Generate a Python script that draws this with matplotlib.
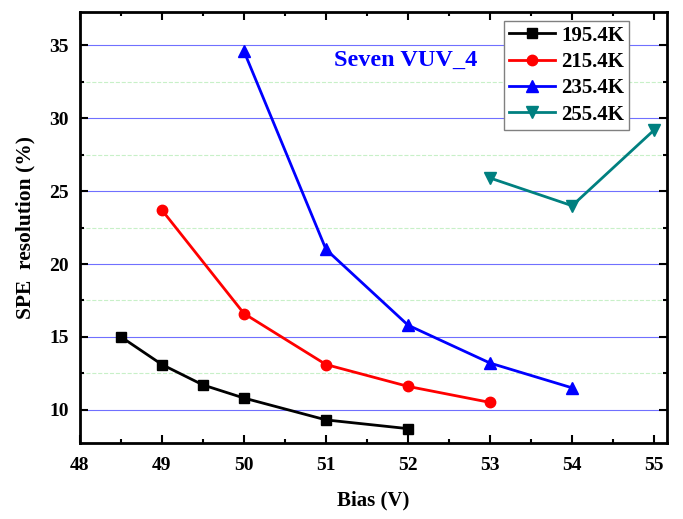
import matplotlib.pyplot as plt
from matplotlib.ticker import MultipleLocator

plt.rcParams['font.family'] = 'Liberation Serif'
plt.rcParams['font.weight'] = 'bold'

# SPE resolution vs bias voltage for each temperature
bias_195 = [48.5, 49, 49.5, 50, 51, 52]
res_195 = [15.0, 13.1, 11.7, 10.8, 9.3, 8.7]
bias_215 = [49, 50, 51, 52, 53]
res_215 = [23.7, 16.6, 13.1, 11.6, 10.5]
bias_235 = [50, 51, 52, 53, 54]
res_235 = [34.6, 21.0, 15.8, 13.2, 11.5]
bias_255 = [53, 54, 55]
res_255 = [25.9, 24.0, 29.2]

fig = plt.figure(figsize=(6.83, 5.19), dpi=100)
ax = fig.add_axes([0.117, 0.146, 0.860, 0.831])

ax.plot(bias_195, res_195, color='black', marker='s', ms=7, lw=2, label='195.4K')
ax.plot(bias_215, res_215, color='red', marker='o', ms=7.5, lw=2, label='215.4K')
ax.plot(bias_235, res_235, color='blue', marker='^', ms=8, lw=2, label='235.4K')
ax.plot(bias_255, res_255, color='#008080', marker='v', ms=8, lw=2, label='255.4K')

ax.set_xlim(48, 55.16)
ax.set_ylim(7.7, 37.3)
ax.xaxis.set_major_locator(MultipleLocator(1))
ax.xaxis.set_minor_locator(MultipleLocator(0.5))
ax.yaxis.set_major_locator(MultipleLocator(5))
ax.yaxis.set_minor_locator(MultipleLocator(2.5))
ax.tick_params(which='both', direction='in', top=True, right=True, width=1.5,
               labelsize=14)
ax.tick_params(which='major', length=6)
ax.tick_params(which='minor', length=3)
ax.tick_params(axis='x', pad=10)
ax.tick_params(axis='y', pad=8)

ax.grid(which='major', axis='y', color='#7070ff', lw=0.8)
ax.grid(which='minor', axis='y', color='#c8f0c8', lw=0.8, ls='--')
ax.set_axisbelow(True)
for s in ax.spines.values():
    s.set_linewidth(2)

ax.set_xlabel('Bias (V)', fontsize=15, fontweight='bold', labelpad=12)
ax.set_ylabel('SPE  resolution (%)', fontsize=15.5, fontweight='bold', labelpad=10)

ax.text(51.1, 34.0, 'Seven VUV_4', color='blue', fontsize=17.5, fontweight='bold',
        va='center')

leg = ax.legend(loc='upper right', bbox_to_anchor=(0.935, 0.98), fontsize=15,
                fancybox=False, framealpha=1, edgecolor='gray',
                handlelength=2.2, borderpad=0.25, labelspacing=0.3,
                handletextpad=0.3, borderaxespad=0)
leg.get_frame().set_linewidth(1)

fig.savefig('out.png', dpi=100)
